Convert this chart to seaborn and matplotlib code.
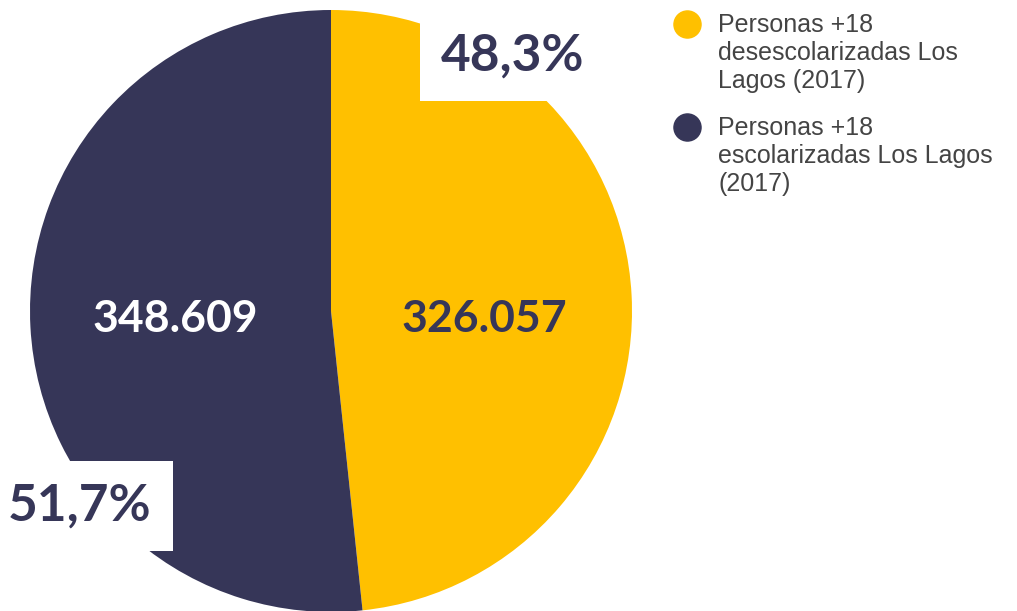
import matplotlib

matplotlib.use("Agg")
import matplotlib.pyplot as plt
import seaborn as sns

sns.set_theme(style="white")
plt.rcParams["font.family"] = ["Liberation Sans", "DejaVu Sans"]

labels = [
    "Personas +18\ndesescolarizadas Los\nLagos (2017)",
    "Personas +18\nescolarizadas Los Lagos\n(2017)",
]
values = [326057, 348609]
colors = ["#FFC000", "#363658"]
value_colors = ["#363658", "white"]

W, H = 1017, 611


def fmt_thousands(v):
    return f"{v:,}".replace(",", ".")


def fmt_pct(v):
    return f"{100 * v / sum(values):.1f}%".replace(".", ",")


fig = plt.figure(figsize=(W / 100, H / 100), dpi=100)
ax = fig.add_axes([0, 0, 1, 1])

wedges, texts, autotexts = ax.pie(
    values,
    colors=colors,
    startangle=90,
    counterclock=False,
    center=(331, H - 311),
    radius=301,
    frame=True,
    autopct=lambda p: fmt_thousands(round(p * sum(values) / 100)),
    wedgeprops=dict(linewidth=0),
)
ax.set_xlim(0, W)
ax.set_ylim(0, H)
ax.set_aspect("equal")
ax.axis("off")

# value labels sit on one line inside each wedge
for t, c, x in zip(autotexts, value_colors, [484, 175]):
    t.set_position((x, H - 319))
    t.set_color(c)
    t.set_fontfamily("Lato")
    t.set_fontweight("bold")
    t.set_fontsize(32)

# percentage callouts in white boxes
box = dict(boxstyle="square,pad=0.42", facecolor="white", edgecolor="none")
ax.text(513, H - 56, fmt_pct(values[0]), ha="center", va="center",
        fontsize=37, fontweight="bold", family="Lato", color="#363658", bbox=box)
ax.text(80, H - 506, fmt_pct(values[1]), ha="center", va="center",
        fontsize=37, fontweight="bold", family="Lato", color="#363658", bbox=box)

# legend: marker aligned with the first line of each label
for i, (lab, c) in enumerate(zip(labels, colors)):
    y0 = 103 * i
    ax.plot(687, H - 24 - y0, marker="o", markersize=19.5, color=c,
            linestyle="none", clip_on=False)
    ax.text(718, H - 13 - y0, lab, ha="left", va="top", fontsize=18,
            color="#444444", linespacing=1.2)

fig.savefig("out.png", dpi=100)
